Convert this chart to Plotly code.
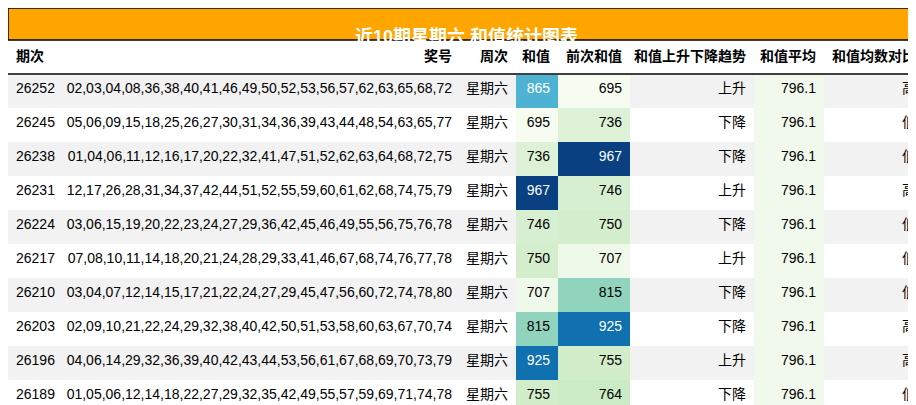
import plotly.graph_objects as go
from plotly.colors import sample_colorscale

periods = ["26252","26245","26238","26231","26224","26217","26210","26203","26196","26189"]
numbers = ["02,03,04,08,36,38,40,41,46,49,50,52,53,56,57,62,63,65,68,72",
"05,06,09,15,18,25,26,27,30,31,34,36,39,43,44,48,54,63,65,77",
"01,04,06,11,12,16,17,20,22,32,41,47,51,52,62,63,64,68,72,75",
"12,17,26,28,31,34,37,42,44,51,52,55,59,60,61,62,68,74,75,79",
"03,06,15,19,20,22,23,24,27,29,36,42,45,46,49,55,56,75,76,78",
"07,08,10,11,14,18,20,21,24,28,29,33,41,46,67,68,74,76,77,78",
"03,04,07,12,14,15,17,21,22,24,27,29,45,47,56,60,72,74,78,80",
"02,09,10,21,22,24,29,32,38,40,42,50,51,53,58,60,63,67,70,74",
"04,06,14,29,32,36,39,40,42,43,44,53,56,61,67,68,69,70,73,79",
"01,05,06,12,14,18,22,27,29,32,35,42,49,55,57,59,69,71,74,78"]
weekday = ["星期六"]*10
sums = [865,695,736,967,746,750,707,815,925,755]
prev_sums = [695,736,967,746,750,707,815,925,755,764]
trend = ["上升","下降","下降","上升","下降","上升","下降","下降","上升","下降"]
avg = [796.1]*10
compare = ["高","低","低","高","低","低","低","高","高","低"]
headers = ["期次","奖号","周次","和值","前次和值","和值上升下降趋势","和值平均","和值均数对比"]

lo, hi = 695, 967
def col(v):
    return sample_colorscale("GnBu", [(v-lo)/(hi-lo)])[0]
def tcol(v):
    return "white" if (v-lo)/(hi-lo) > 0.55 else "black"

row_bg = ["#f2f2f2" if i % 2 == 0 else "white" for i in range(10)]
fills = [row_bg, row_bg, row_bg, [col(v) for v in sums], [col(v) for v in prev_sums],
         row_bg, ["#f1f9ec"]*10, row_bg]
fcols = [["black"]*10]*3 + [[tcol(v) for v in sums], [tcol(v) for v in prev_sums]] + [["black"]*10]*3

widths = [55, 397, 56, 42, 72, 124, 70, 100]
font = "Liberation Sans, Noto Sans CJK SC, sans-serif"
H = 405
fig = go.Figure(go.Table(
    columnwidth=widths,
    header=dict(values=[f"<b>{h}</b>" for h in headers], height=34,
                fill_color="white", line_color="white",
                align=["left"]+["right"]*7,
                font=dict(family=font, size=14, color="black")),
    cells=dict(values=[periods, numbers, weekday, sums, prev_sums, trend,
                       [f"{a:.1f}" for a in avg], compare],
               height=34, fill_color=fills, line_color="rgba(0,0,0,0)", line_width=0,
               align=["left"]+["right"]*7,
               font=dict(family=font, size=14, color=fcols)),
    domain=dict(x=[0, 1], y=[0, (H-32)/H]),
))
fig.add_shape(type="rect", xref="paper", yref="paper", x0=0, x1=1, y0=(H-32)/H, y1=1,
              fillcolor="#ffa500", line=dict(color="black", width=1.5))
fig.add_shape(type="line", xref="paper", yref="paper", x0=0, x1=1,
              y0=(H-66)/H, y1=(H-66)/H, line=dict(color="black", width=1.5))
fig.add_annotation(text="<b>近10期星期六 和值统计图表</b>", xref="paper", yref="paper",
                   x=0.5, y=1-16/H, showarrow=False,
                   font=dict(family=font, size=18, color="white"))
fig.update_layout(width=916, height=H, margin=dict(l=0, r=0, t=0, b=0),
                  paper_bgcolor="white")
fig.write_html("out.html")
